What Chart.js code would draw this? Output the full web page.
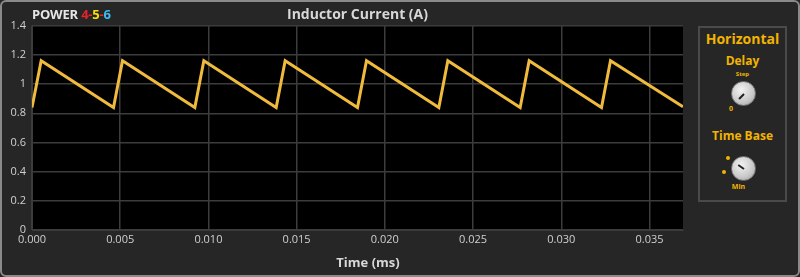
<!DOCTYPE html>
<html>
<head>
<meta charset="utf-8">
<script src="https://cdn.jsdelivr.net/npm/chart.js@4.4.1/dist/chart.umd.min.js"></script>
<style>
  html, body { margin: 0; padding: 0; background: #262626; }
  #frame {
    position: relative; width: 796px; height: 273px;
    border: 2px solid #8a8a8a; border-radius: 6px; background: #262626;
    overflow: hidden; font-family: "Open Sans", sans-serif;
  }
  #chartWrap { position: absolute; left: -2px; top: -2px; width: 690px; height: 277px; }
  #brand { position: absolute; left: 30px; top: 3px; font: bold 13px "Open Sans", sans-serif; color: #e6e6e6; letter-spacing: -0.2px; }
  #panel {
    position: absolute; left: 696px; top: 24px; width: 85px; height: 172px;
    border: 2px solid #4a4a4a; color: #f2b400; font-weight: bold; text-align: center;
  }
  .lbl { position: absolute; left: 0; width: 100%; text-align: center; }
  .knob {
    position: absolute; width: 23px; height: 23px; border-radius: 50%;
    background: radial-gradient(circle at 40% 35%, #f2f2f2, #c8c8c8 60%, #9a9a9a);
    border: 1px solid #777;
  }
  .mark { position: absolute; left: 11px; top: 5px; width: 2px; height: 7px; background: #222; transform-origin: 1px 7px; }
  .dot { position: absolute; width: 4px; height: 4px; border-radius: 50%; background: #f2b400; }
</style>
</head>
<body>
<div id="frame">
  <div id="chartWrap"><canvas id="currentChart" width="690" height="277"></canvas></div>
  <div id="brand">POWER <span style="color:#e8222a">4</span><span style="color:#e8222a">-</span><span style="color:#f5e000">5</span><span style="color:#e8222a">-</span><span style="color:#3cc0f0">6</span></div>
  <div id="panel">
    <div class="lbl" style="top:1px;font-size:14px;">Horizontal</div>
    <div class="lbl" style="top:24px;font-size:12px;">Delay</div>
    <div class="lbl" style="top:42px;font-size:6px;">Step</div>
    <div class="knob" style="left:31px;top:53px;"><div class="mark" style="transform:rotate(-135deg);"></div></div>
    <div style="position:absolute;left:29px;top:76px;font-size:7px;">0</div>
    <div class="lbl" style="top:99px;font-size:12px;">Time Base</div>
    <div class="dot" style="left:26px;top:128px;"></div>
    <div class="dot" style="left:22px;top:142px;"></div>
    <div class="knob" style="left:31px;top:128px;"><div class="mark" style="transform:rotate(-55deg);"></div></div>
    <div class="lbl" style="top:154px;font-size:7px;left:-4px;">Min</div>
  </div>
</div>
<script>
// sawtooth inductor current
const timeMs = [0, 0.00052, 0.00462, 0.00513, 0.00923, 0.00974, 0.01384, 0.01435, 0.01845, 0.01896,
                0.02306, 0.02357, 0.02767, 0.02818, 0.03228, 0.03279, 0.0369];
const currentA = [0.84, 1.16, 0.84, 1.16, 0.84, 1.16, 0.84, 1.16, 0.84, 1.16,
                  0.84, 1.16, 0.84, 1.16, 0.84, 1.16, 0.845];
const xTicks = [0, 0.005, 0.01, 0.015, 0.02, 0.025, 0.03, 0.035];
const yTicks = [0, 0.2, 0.4, 0.6, 0.8, 1, 1.2, 1.4];

const plotBg = {
    id: 'plotBg',
    afterLayout(chart) {
        // center the title over the plot rather than the whole canvas
        chart.titleBlock.left = chart.chartArea.left;
        chart.titleBlock.right = chart.chartArea.right;
        const sx = chart.scales.x;
        if (!sx._titleShift) {
            const orig = sx.drawTitle;
            sx.drawTitle = function () {
                const l = this.left;
                this.left += 21;
                orig.call(this);
                this.left = l;
            };
            sx._titleShift = true;
        }
    },
    beforeDraw(chart) {
        const { ctx, chartArea: a } = chart;
        ctx.save();
        ctx.fillStyle = '#000';
        ctx.fillRect(a.left, a.top, a.right - a.left, a.bottom - a.top);
        ctx.restore();
    }
};

const ctx = document.getElementById('currentChart').getContext('2d');
new Chart(ctx, {
    type: 'scatter',
    data: {
        datasets: [{
            label: 'Inductor Current',
            data: timeMs.map((t, i) => ({ x: t, y: currentA[i] })),
            showLine: true,
            borderColor: '#f0ba3c',
            borderWidth: 3,
            pointRadius: 0,
            tension: 0
        }]
    },
    options: {
        responsive: false,
        animation: false,
        layout: { padding: { left: 4, right: 7, top: 0, bottom: 6 } },
        plugins: {
            legend: { display: false },
            tooltip: { enabled: false },
            title: {
                display: true,
                text: 'Inductor Current (A)',
                color: '#d8d8d8',
                font: { family: 'Open Sans', size: 14, weight: 'bold' },
                padding: { top: 7, bottom: 2 }
            }
        },
        scales: {
            x: {
                type: 'linear',
                min: 0,
                max: timeMs[timeMs.length - 1],
                afterBuildTicks: (s) => { s.ticks = xTicks.map(v => ({ value: v })); },
                afterFit: (s) => { s.height = 41; },
                ticks: {
                    color: '#d0d0d0',
                    font: { family: 'Open Sans', size: 11 },
                    padding: 3,
                    maxRotation: 0,
                    callback: (v) => Number(v).toFixed(3)
                },
                grid: { color: '#3c3c3c', lineWidth: 1.5, drawTicks: false },
                border: { color: '#3c3c3c' },
                title: {
                    display: true,
                    text: 'Time (ms)',
                    color: '#d8d8d8',
                    font: { family: 'Open Sans', size: 13, weight: 'bold' },
                    padding: { top: 3, bottom: 0 }
                }
            },
            y: {
                min: 0,
                max: 1.4,
                afterBuildTicks: (s) => { s.ticks = yTicks.map(v => ({ value: v })); },
                afterFit: (s) => { s.width = 28; },
                ticks: {
                    color: '#d0d0d0',
                    font: { family: 'Open Sans', size: 11 },
                    padding: 6,
                    callback: (v) => String(Number(Number(v).toFixed(1)))
                },
                grid: { color: '#3c3c3c', lineWidth: 1.5, drawTicks: false },
                border: { color: '#3c3c3c' }
            }
        }
    },
    plugins: [plotBg]
});
</script>
</body>
</html>
